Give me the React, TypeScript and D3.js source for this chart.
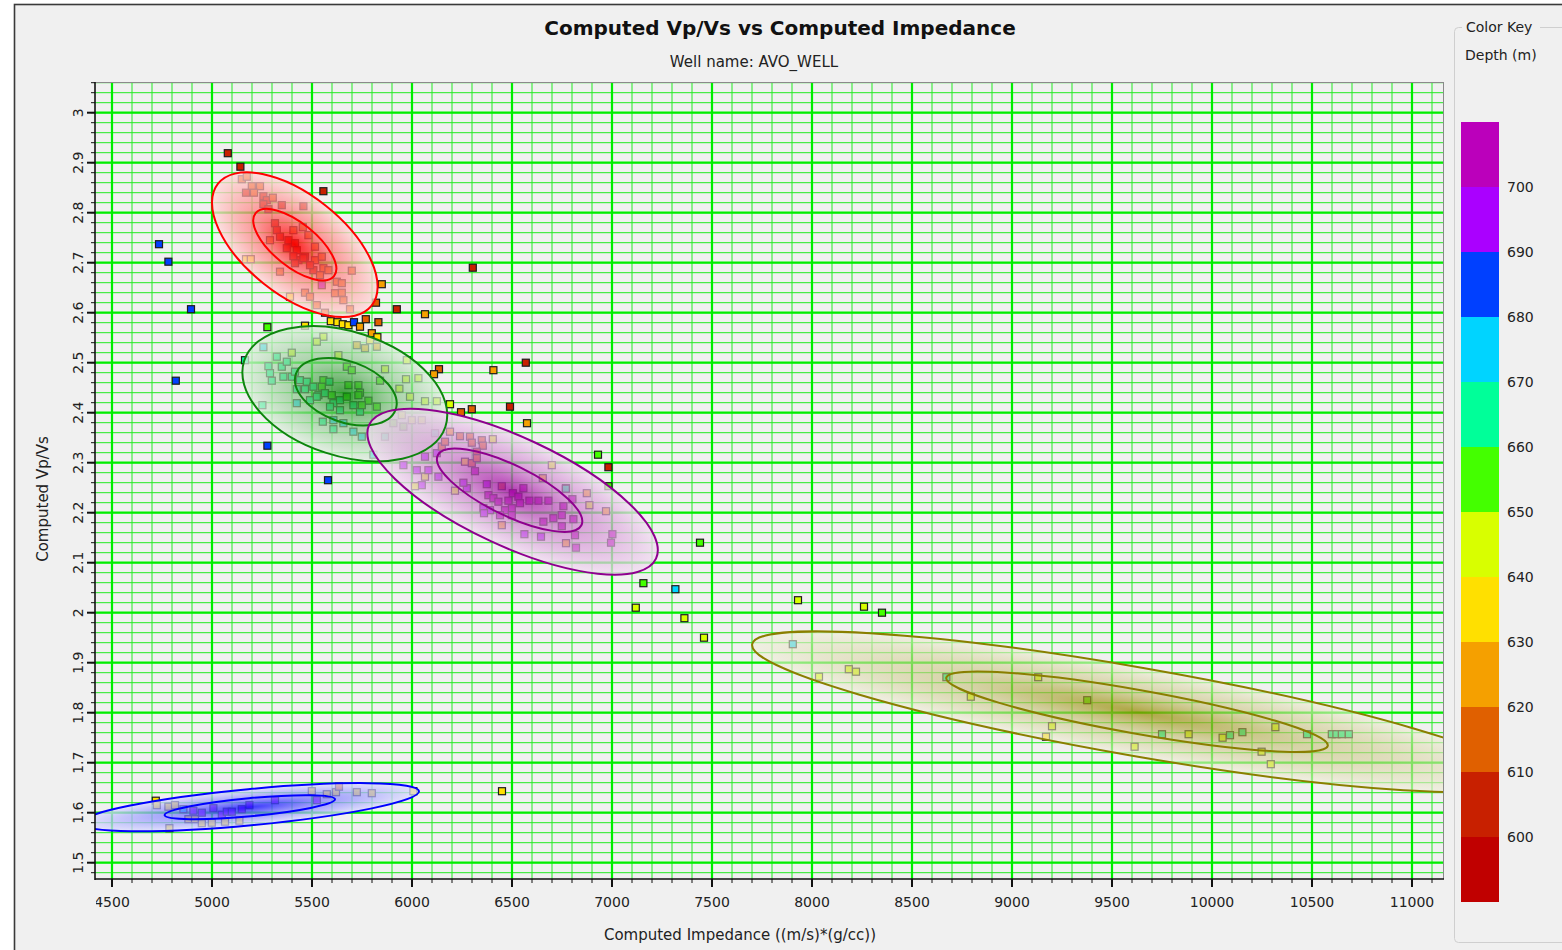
import React from 'react';
import * as d3 from 'd3';

const W = 1562;
const H = 950;

// ---- Colour key (depth, m) ----
const depthBreaks = [600, 610, 620, 630, 640, 650, 660, 670, 680, 690, 700];
const depthColors = ['#C00000', '#C82000', '#E06000', '#F5A000', '#FFE000', '#D8FF00', '#44FF00', '#00FF99', '#00D4FF', '#0040FF', '#AA00FF', '#BB00BB'];
const keyLabels = [600, 610, 620, 630, 640, 650, 660, 670, 680, 690, 700];

// ---- Axis ticks ----
const xTickValues = [4500, 5000, 5500, 6000, 6500, 7000, 7500, 8000, 8500, 9000, 9500, 10000, 10500, 11000];
const yTickValues = [1.5, 1.6, 1.7, 1.8, 1.9, 2, 2.1, 2.2, 2.3, 2.4, 2.5, 2.6, 2.7, 2.8, 2.9, 3];
const yTickLabels = ['1.5', '1.6', '1.7', '1.8', '1.9', '2', '2.1', '2.2', '2.3', '2.4', '2.5', '2.6', '2.7', '2.8', '2.9', '3'];

// ---- Points: [impedance, vp/vs, depth] ----
const outlierPts = [
  [5079, 2.919, 605], [5142, 2.892, 605], [5557, 2.843, 605], [6304, 2.690, 605], [5849, 2.657, 625],
  [5820, 2.620, 615], [5924, 2.607, 605], [6065, 2.597, 625], [5832, 2.581, 615], [5799, 2.559, 625],
  [6135, 2.487, 615], [6110, 2.477, 625], [6407, 2.485, 625], [6569, 2.500, 605], [6190, 2.417, 645],
  [6245, 2.401, 615], [6299, 2.407, 615], [6490, 2.412, 605], [6575, 2.379, 625], [6930, 2.316, 655],
  [6982, 2.291, 605], [6982, 2.253, 655], [7440, 2.140, 655], [7157, 2.059, 655], [7317, 2.047, 675],
  [7119, 2.010, 645], [7362, 1.989, 645], [7460, 1.950, 645], [7930, 2.025, 645], [8260, 2.012, 645],
  [8350, 2.000, 655], [4735, 2.737, 685], [4782, 2.702, 685], [4895, 2.607, 685], [4819, 2.464, 685],
  [5277, 2.571, 655], [5277, 2.334, 685], [5580, 2.265, 685], [5165, 2.505, 665], [5594, 2.583, 635],
  [5627, 2.581, 635], [5654, 2.577, 635], [5682, 2.575, 635], [5710, 2.581, 685], [5740, 2.572, 625],
  [5769, 2.587, 615], [5465, 2.574, 635], [6450, 1.643, 635], [4719, 1.624, 635],
];

const redPts = [
  [5149, 2.867, 615], [5174, 2.872, 612], [5199, 2.853, 615], [5240, 2.853, 612], [5170, 2.840, 608],
  [5210, 2.840, 612], [5257, 2.833, 605], [5274, 2.825, 605], [5304, 2.830, 612], [5349, 2.815, 608],
  [5457, 2.813, 608], [5257, 2.817, 605], [5282, 2.807, 605], [5315, 2.779, 605], [5324, 2.765, 605],
  [5407, 2.765, 612], [5340, 2.752, 605], [5382, 2.745, 605], [5415, 2.739, 605], [5454, 2.771, 612],
  [5482, 2.755, 612], [5515, 2.732, 612], [5290, 2.745, 615], [5374, 2.729, 605], [5424, 2.725, 605],
  [5465, 2.712, 605], [5515, 2.705, 612], [5549, 2.712, 612], [5557, 2.689, 612], [5507, 2.685, 605],
  [5490, 2.695, 605], [5432, 2.705, 605], [5540, 2.675, 612], [5582, 2.685, 612], [5699, 2.684, 612],
  [5340, 2.682, 615], [5170, 2.707, 632], [5194, 2.707, 632], [5549, 2.655, 695], [5624, 2.662, 612],
  [5649, 2.659, 612], [5465, 2.640, 612], [5490, 2.632, 612], [5390, 2.632, 635], [5615, 2.639, 612],
  [5657, 2.625, 612], [5524, 2.615, 615], [5690, 2.607, 615], [5565, 2.600, 615], [5415, 2.699, 605],
  [5407, 2.713, 605], [5649, 2.640, 612], [5457, 2.709, 605],
];

const greenPts = [
  [5257, 2.531, 675], [5282, 2.493, 665], [5324, 2.512, 665], [5349, 2.492, 665], [5374, 2.502, 665],
  [5399, 2.520, 648], [5299, 2.464, 665], [5357, 2.472, 665], [5399, 2.472, 665], [5415, 2.482, 665],
  [5440, 2.465, 665], [5474, 2.462, 665], [5507, 2.452, 665], [5532, 2.435, 665], [5557, 2.465, 655],
  [5587, 2.462, 665], [5549, 2.452, 655], [5565, 2.439, 665], [5599, 2.435, 655], [5607, 2.419, 665],
  [5640, 2.425, 665], [5674, 2.432, 655], [5682, 2.455, 655], [5732, 2.455, 655], [5740, 2.440, 655],
  [5782, 2.424, 655], [5707, 2.415, 665], [5740, 2.402, 665], [5640, 2.405, 665], [5590, 2.412, 665],
  [5424, 2.419, 675], [5490, 2.425, 665], [5524, 2.432, 665], [5465, 2.447, 665], [5424, 2.447, 665],
  [5632, 2.515, 648], [5557, 2.552, 648], [5524, 2.542, 648], [5674, 2.492, 655], [5699, 2.485, 655],
  [5724, 2.535, 625], [5765, 2.529, 625], [5790, 2.545, 635], [5824, 2.532, 625], [5827, 2.551, 635],
  [5607, 2.385, 675], [5657, 2.379, 675], [5707, 2.362, 675], [5749, 2.352, 675], [5554, 2.382, 665],
  [5607, 2.367, 665], [5252, 2.415, 665], [5807, 2.316, 675], [5865, 2.487, 645], [5974, 2.505, 640],
  [5970, 2.467, 645], [6032, 2.469, 645], [5937, 2.448, 645], [5990, 2.432, 648], [6065, 2.423, 648],
  [6124, 2.423, 645], [5840, 2.464, 655], [5824, 2.412, 655], [5949, 2.395, 648], [5999, 2.385, 648],
  [6049, 2.385, 648], [5907, 2.379, 655], [5957, 2.372, 655], [5865, 2.352, 665], [5749, 2.415, 655],
  [5732, 2.435, 650], [5290, 2.479, 665],
];

const purplePts = [
  [6065, 2.312, 695], [6124, 2.319, 690], [6149, 2.332, 615], [6165, 2.342, 615], [6190, 2.362, 625],
  [6240, 2.353, 615], [6290, 2.352, 615], [6299, 2.340, 615], [6349, 2.345, 615], [6354, 2.334, 615],
  [6404, 2.347, 645], [6324, 2.322, 605], [6265, 2.302, 635], [6299, 2.299, 615], [6324, 2.309, 615],
  [6315, 2.283, 705], [6374, 2.257, 695], [6449, 2.253, 615], [6504, 2.239, 705], [6557, 2.249, 705],
  [6382, 2.235, 705], [6407, 2.229, 705], [6432, 2.222, 705], [6482, 2.224, 705], [6532, 2.232, 705],
  [6587, 2.224, 705], [6632, 2.224, 705], [6682, 2.224, 705], [6540, 2.219, 705], [6499, 2.209, 705],
  [6465, 2.205, 705], [6440, 2.195, 705], [6390, 2.205, 695], [6357, 2.209, 695], [6360, 2.199, 695],
  [6499, 2.195, 705], [6657, 2.182, 705], [6707, 2.189, 705], [6749, 2.195, 705], [6757, 2.213, 705],
  [6749, 2.173, 705], [6807, 2.187, 705], [6770, 2.249, 640], [6699, 2.295, 640], [6654, 2.269, 620],
  [6874, 2.239, 620], [6887, 2.215, 640], [6970, 2.203, 625], [7002, 2.157, 705], [6995, 2.140, 705],
  [6820, 2.130, 705], [6770, 2.139, 625], [6815, 2.155, 705], [6645, 2.152, 695], [6562, 2.157, 690],
  [6449, 2.175, 625], [6215, 2.244, 645], [6274, 2.249, 690], [6257, 2.260, 690], [6132, 2.272, 690],
  [6065, 2.272, 640], [6082, 2.285, 690], [5957, 2.295, 690], [6024, 2.285, 690], [6049, 2.255, 690],
  [6015, 2.253, 645], [6115, 2.359, 665], [6769, 2.248, 660], [6802, 2.227, 705],
];

const bluePts = [
  [4724, 1.615, 635], [4782, 1.612, 635], [4815, 1.615, 635], [4857, 1.607, 670], [4882, 1.587, 635],
  [4907, 1.604, 690], [4915, 1.587, 635], [4949, 1.600, 690], [4949, 1.579, 635], [4999, 1.580, 635],
  [5007, 1.609, 690], [5049, 1.596, 690], [5065, 1.582, 635], [5074, 1.602, 690], [5099, 1.602, 690],
  [5137, 1.584, 635], [5149, 1.607, 690], [5187, 1.615, 690], [5315, 1.625, 690], [5499, 1.643, 635],
  [5524, 1.625, 690], [5574, 1.637, 635], [5620, 1.641, 635], [5635, 1.652, 610], [5724, 1.641, 635],
  [5799, 1.639, 635], [6007, 1.643, 635], [4787, 1.569, 635],
];

const olivePts = [
  [7904, 1.937, 670], [8035, 1.872, 640], [8184, 1.887, 645], [8220, 1.882, 640], [8672, 1.871, 665],
  [9131, 1.871, 640], [8794, 1.832, 640], [9376, 1.825, 650], [9200, 1.773, 645], [9170, 1.752, 638],
  [9613, 1.732, 640], [9750, 1.757, 665], [9883, 1.757, 640], [10053, 1.750, 640], [10090, 1.755, 665],
  [10152, 1.761, 665], [10317, 1.771, 640], [10248, 1.722, 645], [10294, 1.697, 640], [10475, 1.757, 665],
  [10599, 1.757, 665], [10622, 1.757, 665], [10649, 1.757, 665], [10684, 1.757, 665],
];

// ---- Cluster ellipses: [centerImp, centerVpVs, majorEndImp, majorEndVpVs, minorEndImp, minorEndVpVs] ----
const redOuter = [5414, 2.736, 5798, 2.614, 5569, 2.814];
const redInner = [5414, 2.736, 5610, 2.673, 5482, 2.770];
const greenOuter = [5664, 2.438, 6167, 2.372, 5760, 2.556];
const greenInner = [5669, 2.442, 5918, 2.406, 5721, 2.499];
const purpleOuter = [6503, 2.242, 7220, 2.108, 6617, 2.340];
const purpleInner = [6488, 2.245, 6847, 2.175, 6543, 2.290];
const oliveOuter = [9625, 1.802, 11549, 1.667, 9663, 1.889];
const oliveInner = [9625, 1.802, 10579, 1.734, 9644, 1.845];
const blueOuter = [5189, 1.611, 6035, 1.643, 5181, 1.647];
const blueInner = [5189, 1.611, 5615, 1.627, 5185, 1.629];

const clusters = [
  { id: 'red', outer: redOuter, inner: redInner, stroke: '#FF0000', fill: '#FF0000', op: [0.85, 0.72, 0.74] },
  { id: 'green', outer: greenOuter, inner: greenInner, stroke: '#0E840E', fill: '#128A12', op: [0.8, 0.66, 0.74] },
  { id: 'purple', outer: purpleOuter, inner: purpleInner, stroke: '#8E008E', fill: '#A412A4', op: [0.82, 0.7, 0.74] },
  { id: 'olive', outer: oliveOuter, inner: oliveInner, stroke: '#8A7E00', fill: '#948A00', op: [0.72, 0.58, 0.62] },
  { id: 'blue', outer: blueOuter, inner: blueInner, stroke: '#0000FF', fill: '#1A1AFF', op: [0.85, 0.72, 0.74] },
];

// ---- Layout ----
const PL = 95, PR = 1444, PT = 82, PB = 879;
const FONT = 'DejaVu Sans, Verdana, sans-serif';

const x = d3.scaleLinear().domain([4415, 11160]).range([PL, PR]);
const y = d3.scaleLinear().domain([1.4674, 3.0614]).range([PB, PT]);
const colorOf = d3.scaleThreshold<number, string>().domain(depthBreaks).range(depthColors);
const keyY = d3.scaleLinear().domain([590, 710]).range([902, 122]);

const xMinor = d3.range(4500, 11160, 100);
const yMinor = d3.range(1.48, 3.062, 0.02);

function ellipseGeom(e: number[]) {
  const cx = x(e[0]), cy = y(e[1]);
  const mx = x(e[2]) - cx, my = y(e[3]) - cy;
  const nx = x(e[4]) - cx, ny = y(e[5]) - cy;
  return {
    cx, cy,
    a: Math.hypot(mx, my),
    b: Math.hypot(nx, ny),
    ang: (Math.atan2(my, mx) * 180) / Math.PI,
  };
}

function Points({ data }: { data: number[][] }) {
  const s = 7;
  return (
    <g>
      {data.map((p, i) => (
        <rect key={i} x={x(p[0]) - s / 2} y={y(p[1]) - s / 2} width={s} height={s}
          fill={colorOf(p[2])} stroke="#1c1c1c" strokeWidth={1.2} />
      ))}
    </g>
  );
}

export default function App() {
  const white = '#ffffff';
  return (
    <div style={{ position: 'absolute', left: 0, top: 0, width: W, height: H, overflow: 'hidden' }}>
      <svg width={W} height={H} style={{ display: 'block', fontFamily: FONT }}>
        <defs>
          <clipPath id="plotClip">
            <rect x={PL} y={PT} width={PR - PL} height={PB - PT} />
          </clipPath>
          <clipPath id="xLabClip">
            <rect x={96} y={885} width={1400} height={40} />
          </clipPath>
          {clusters.map((c) => {
            const mid = d3.interpolateRgb(c.fill, white)(0.45);
            const edge = d3.interpolateRgb(c.fill, white)(0.86);
            return (
              <radialGradient key={c.id} id={'grad-' + c.id} cx="50%" cy="50%" r="50%">
                <stop offset="0%" stopColor={c.fill} stopOpacity={c.op[0]} />
                <stop offset="45%" stopColor={mid} stopOpacity={c.op[1]} />
                <stop offset="100%" stopColor={edge} stopOpacity={c.op[2]} />
              </radialGradient>
            );
          })}
        </defs>

        {/* page + frame */}
        <rect x={0} y={0} width={W} height={H} fill="#ffffff" />
        <rect x={14.5} y={4.5} width={W + 10} height={H + 10} fill="#f0f0f0" stroke="#3a3a3a" strokeWidth={1.6} />

        {/* titles */}
        <text x={780} y={35} textAnchor="middle" fontSize={20} fontWeight="bold" fill="#111">Computed Vp/Vs vs Computed Impedance</text>
        <text x={754} y={67} textAnchor="middle" fontSize={15} fill="#222">Well name: AVO_WELL</text>

        {/* plot */}
        <g clipPath="url(#plotClip)">
          <rect x={PL} y={PT} width={PR - PL} height={PB - PT} fill="#f0f0f0" />
          {xMinor.map((v, i) => (
            <line key={'xm' + i} x1={x(v)} x2={x(v)} y1={PT} y2={PB} stroke="#22ea22" strokeWidth={1} />
          ))}
          {yMinor.map((v, i) => (
            <line key={'ym' + i} x1={PL} x2={PR} y1={y(v)} y2={y(v)} stroke="#22ea22" strokeWidth={1} />
          ))}
          {xTickValues.map((v) => (
            <line key={'xM' + v} x1={x(v)} x2={x(v)} y1={PT} y2={PB} stroke="#00ee00" strokeWidth={2.2} />
          ))}
          {yTickValues.map((v) => (
            <line key={'yM' + v} x1={PL} x2={PR} y1={y(v)} y2={y(v)} stroke="#00ee00" strokeWidth={2.2} />
          ))}

          <Points data={outlierPts} />
          <Points data={redPts} />
          <Points data={greenPts} />
          <Points data={purplePts} />
          <Points data={bluePts} />
          <Points data={olivePts} />

          {clusters.map((c) => {
            const g = ellipseGeom(c.outer);
            return (
              <g key={'f' + c.id} transform={`translate(${g.cx},${g.cy}) rotate(${g.ang})`}>
                <ellipse cx={0} cy={0} rx={g.a} ry={g.b} fill={`url(#grad-${c.id})`} />
              </g>
            );
          })}
          {clusters.map((c) => {
            const go = ellipseGeom(c.outer);
            const gi = ellipseGeom(c.inner);
            return (
              <g key={'s' + c.id}>
                <ellipse cx={0} cy={0} rx={go.a} ry={go.b} fill="none" stroke={c.stroke} strokeWidth={2}
                  transform={`translate(${go.cx},${go.cy}) rotate(${go.ang})`} />
                <ellipse cx={0} cy={0} rx={gi.a} ry={gi.b} fill="none" stroke={c.stroke} strokeWidth={2}
                  transform={`translate(${gi.cx},${gi.cy}) rotate(${gi.ang})`} />
              </g>
            );
          })}
        </g>

        {/* plot border */}
        <line x1={PL} x2={PR} y1={PT + 0.5} y2={PT + 0.5} stroke="#8a8a8a" strokeWidth={1} />
        <line x1={PR - 0.5} x2={PR - 0.5} y1={PT} y2={PB} stroke="#8a8a8a" strokeWidth={1} />
        <line x1={PL} x2={PL} y1={PT} y2={PB + 1} stroke="#111" strokeWidth={1.6} />
        <line x1={PL} x2={PR} y1={PB} y2={PB} stroke="#111" strokeWidth={1.6} />

        {/* x ticks */}
        {xMinor.map((v, i) => (
          <line key={'xt' + i} x1={x(v)} x2={x(v)} y1={PB} y2={PB + 4} stroke="#111" strokeWidth={1} />
        ))}
        {xTickValues.map((v) => (
          <line key={'xT' + v} x1={x(v)} x2={x(v)} y1={PB} y2={PB + 8} stroke="#111" strokeWidth={2} />
        ))}
        <g clipPath="url(#xLabClip)">
          {xTickValues.map((v) => (
            <text key={'xl' + v} x={x(v)} y={907} textAnchor="middle" fontSize={14} fill="#222">{v}</text>
          ))}
        </g>

        {/* y ticks */}
        {yMinor.map((v, i) => (
          <line key={'yt' + i} x1={PL - 4} x2={PL} y1={y(v)} y2={y(v)} stroke="#111" strokeWidth={1} />
        ))}
        {yTickValues.map((v) => (
          <line key={'yT' + v} x1={PL - 8} x2={PL} y1={y(v)} y2={y(v)} stroke="#111" strokeWidth={2} />
        ))}
        {yTickValues.map((v, i) => (
          <text key={'yl' + v} transform={`translate(83,${y(v)}) rotate(-90)`} textAnchor="middle" fontSize={14} fill="#222">{yTickLabels[i]}</text>
        ))}

        {/* axis titles */}
        <text x={740} y={940} textAnchor="middle" fontSize={15} fill="#222">Computed Impedance ((m/s)*(g/cc))</text>
        <text transform="translate(48,499) rotate(-90)" textAnchor="middle" fontSize={15} fill="#222">Computed Vp/Vs</text>

        {/* colour key panel */}
        <rect x={1454.5} y={27.5} width={140} height={915} rx={4} fill="none" stroke="#cfcfcf" strokeWidth={1} />
        <rect x={1462} y={18} width={78} height={18} fill="#f0f0f0" />
        <text x={1466} y={32} fontSize={14} fill="#222">Color Key</text>
        <text x={1465} y={60} fontSize={14} fill="#222">Depth (m)</text>
        {depthColors.map((c, i) => {
          const lo = i === 0 ? 590 : depthBreaks[i - 1];
          const hi = i === depthColors.length - 1 ? 710 : depthBreaks[i];
          return <rect key={'k' + i} x={1461} y={keyY(hi)} width={38} height={keyY(lo) - keyY(hi)} fill={c} />;
        })}
        {keyLabels.map((v) => (
          <text key={'kl' + v} x={1507} y={keyY(v) + 5} fontSize={14} fill="#222">{v}</text>
        ))}
      </svg>
    </div>
  );
}
